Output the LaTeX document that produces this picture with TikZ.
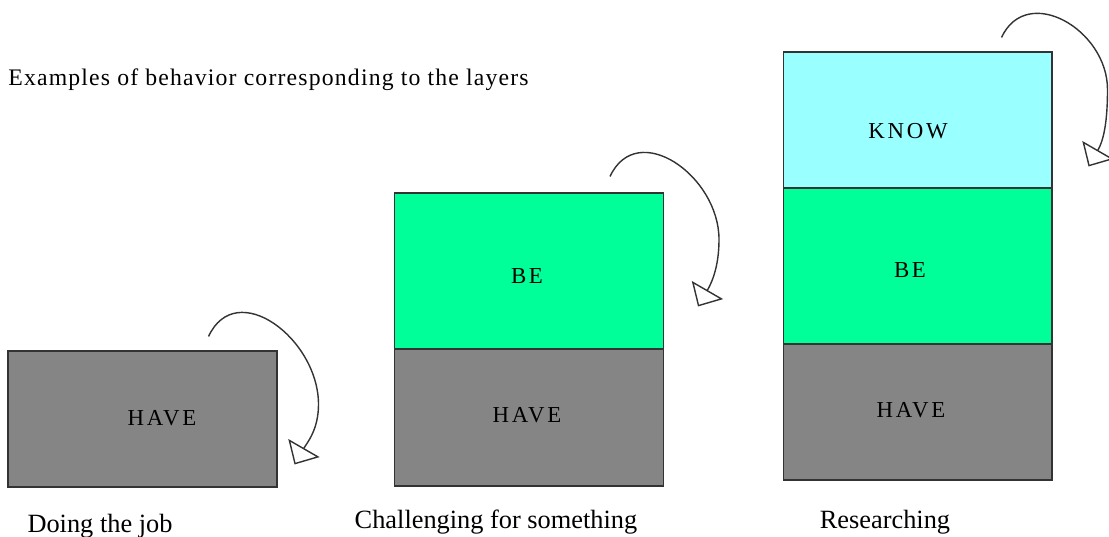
\documentclass[tikz,border=0pt]{standalone}
\usepackage{fontspec}
\setmainfont{Liberation Serif}
\usetikzlibrary{arrows.meta}
\definecolor{havegray}{HTML}{858585}
\definecolor{begreen}{HTML}{00FF99}
\definecolor{knowcyan}{HTML}{99FFFF}
\begin{document}
\begin{tikzpicture}[x=0.02cm,y=0.02cm,
		layer/.style={draw=black!80,line width=0.6pt,minimum width=5.38cm,inner sep=0pt},
		word/.style={font=\fontsize{13}{15}\selectfont\addfontfeature{LetterSpace=12}},
		caption/.style={font=\fontsize{15}{17}\selectfont,anchor=base,inner sep=0pt},
		turn/.style={draw=black!80,line width=0.8pt,-{Triangle[open,length=0.38cm,width=0.72cm,line width=0.8pt]}}]
		\useasboundingbox(0,0)rectangle(1109,537);
		\node[font=\fontsize{13.5}{15}\selectfont\addfontfeature{LetterSpace=5},anchor=base west,inner sep=0pt](title)at(8,451){Examples of behavior corresponding to the layers};
		% doing the job
		\node[layer,fill=havegray,minimum height=2.72cm](have1)at(142.5,118){};
		\node[word]at(162,119){HAVE};
		\node[caption](cap1)at(100,4){Doing the job};
		% challenging
		\node[layer,fill=havegray,minimum height=2.74cm](have2)at(529,119.5){};
		\node[layer,fill=begreen,minimum height=3.12cm](be2)at(529,266){};
		\node[word]at(527,122){HAVE};
		\node[word]at(527,261){BE};
		\node[caption](cap2)at(496,8){Challenging for something};
		% researching
		\node[layer,fill=havegray,minimum height=2.72cm](have3)at(917.5,125){};
		\node[layer,fill=begreen,minimum height=3.12cm](be3)at(917.5,271){};
		\node[layer,fill=knowcyan,minimum height=2.72cm](know3)at(917.5,417){};
		\node[word]at(911,127){HAVE};
		\node[word]at(910,267){BE};
		\node[word]at(908,406){KNOW};
		\node[caption](cap3)at(885,8){Researching};
		% turning arrows over each stack
		\coordinate(s1)at([shift={(-69,14)}]have1.north east);
		\coordinate(r1)at([shift={(41,-54)}]have1.north east);
		\coordinate(t1)at([shift={(17,-114)}]have1.north east);
		\coordinate(s2)at([shift={(-54,16)}]be2.north east);
		\coordinate(r2)at([shift={(55,-47)}]be2.north east);
		\coordinate(t2)at([shift={(34,-114)}]be2.north east);
		\coordinate(s3)at([shift={(-51,14)}]know3.north east);
		\coordinate(r3)at([shift={(55,-38)}]know3.north east);
		\coordinate(t3)at([shift={(36,-115)}]know3.north east);
		\foreach \i in {1,2,3}
			\draw[turn](s\i)to[out=65,in=90,looseness=1.3](r\i)to[out=-90,in=60](t\i);
	\end{tikzpicture}
\end{document}
